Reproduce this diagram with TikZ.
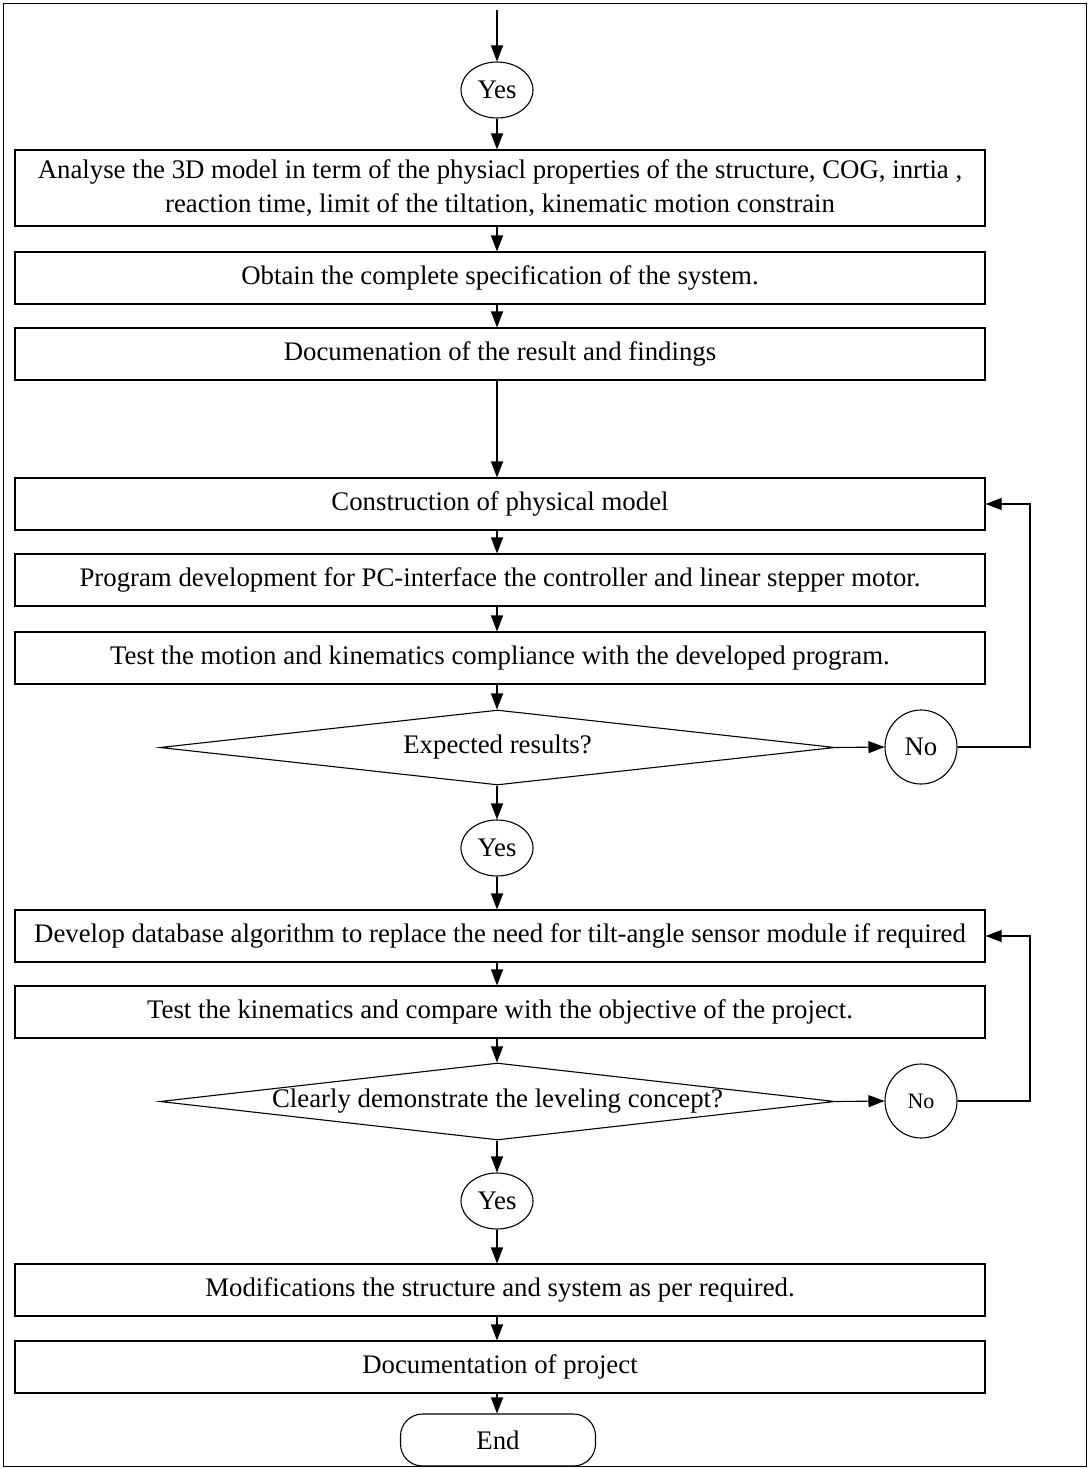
\documentclass[tikz,border=0pt]{standalone}
\usepackage{fontspec}
\setmainfont{Liberation Serif}
\usetikzlibrary{arrows.meta,shapes.geometric}

\begin{document}
\begin{tikzpicture}[x=1pt,y=-1pt,
  font=\fontsize{26.8}{34}\selectfont,
  line width=1.1pt,
  proc/.style={draw, minimum width=970pt, minimum height=52pt, inner sep=0pt, align=center},
  yesnode/.style={draw, ellipse, minimum width=72pt, minimum height=56pt, inner sep=0pt},
  nonode/.style={draw, ellipse, minimum width=72pt, minimum height=74pt, inner sep=0pt},
  decide/.style={draw, diamond, aspect=9, minimum width=675pt, inner sep=0pt},
  terminal/.style={draw, rounded corners=22pt, minimum width=195pt, minimum height=52pt, inner sep=0pt},
  arr/.style={-{Triangle[length=16pt,width=12pt]}},
]
\useasboundingbox (0,0) rectangle (1089,1469);
% outer frame
\draw[line width=1pt] (3,4) rectangle (1086,1466);

% flow column and return-line positions
\coordinate (top) at (497,10);
\coordinate (ret) at (1030,0);

\node[yesnode] (y1) at (497,90) {Yes};
\node[proc, minimum height=76pt] (b1) at (500,188)
  {Analyse the 3D model in term of the physiacl properties of the structure, COG, inrtia ,\\
   reaction time, limit of the tiltation, kinematic motion constrain};
\node[proc] (b2) at (500,278) {Obtain the complete specification of the system.};
\node[proc] (b3) at (500,354) {Documenation of the result and findings};
\node[proc] (b4) at (500,504) {Construction of physical model};
\node[proc] (b5) at (500,580) {Program development for PC-interface the controller and linear stepper motor.};
\node[proc] (b6) at (500,658) {Test the motion and kinematics compliance with the developed program.};
\node[decide, minimum height=75pt] (d1) at (497.5,747.5) {Expected results?};
\node[nonode] (n1) at (921,747) {No};
\node[yesnode] (y2) at (497,848) {Yes};
\node[proc] (b7) at (500,936) {Develop database algorithm to replace the need for tilt-angle sensor module if required};
\node[proc] (b8) at (500,1012) {Test the kinematics and compare with the objective of the project.};
\node[decide, minimum height=77pt] (d2) at (497.5,1101.5) {Clearly demonstrate the leveling concept?};
\node[nonode, font=\fontsize{22}{26}\selectfont] (n2) at (921,1101) {No};
\node[yesnode] (y3) at (497,1201) {Yes};
\node[proc] (b9) at (500,1290) {Modifications the structure and system as per required.};
\node[proc] (b10) at (500,1367) {Documentation of project};
\node[terminal] (end) at (498,1440) {End};

% main vertical flow
\draw[arr] (top) -- (y1.north);
\draw[arr] (y1.south) -- (y1.south |- b1.north);
\draw[arr] (b1.south -| y1.south) -- (b2.north -| y1.south);
\draw[arr] (b2.south -| y1.south) -- (b3.north -| y1.south);
\draw[arr] (b3.south -| y1.south) -- (b4.north -| y1.south);
\draw[arr] (b4.south -| y1.south) -- (b5.north -| y1.south);
\draw[arr] (b5.south -| y1.south) -- (b6.north -| y1.south);
\draw[arr] (b6.south -| y1.south) -- (d1.north -| y1.south);
\draw[arr] (d1.south -| y2.north) -- (y2.north);
\draw[arr] (y2.south) -- (y2.south |- b7.north);
\draw[arr] (b7.south -| y2.south) -- (b8.north -| y2.south);
\draw[arr] (b8.south -| y2.south) -- (d2.north -| y2.south);
\draw[arr] (d2.south -| y3.north) -- (y3.north);
\draw[arr] (y3.south) -- (y3.south |- b9.north);
\draw[arr] (b9.south -| y3.south) -- (b10.north -| y3.south);
\draw[arr] (b10.south -| y3.south) -- (end.north -| y3.south);

% decisions: "No" branches loop back
\draw[arr] (d1.east) -- (n1.west);
\draw[arr] (n1.east) -- (n1.east -| ret) |- (b4.east);
\draw[arr] (d2.east) -- (n2.west);
\draw[arr] (n2.east) -- (n2.east -| ret) |- (b7.east);
\end{tikzpicture}
\end{document}
